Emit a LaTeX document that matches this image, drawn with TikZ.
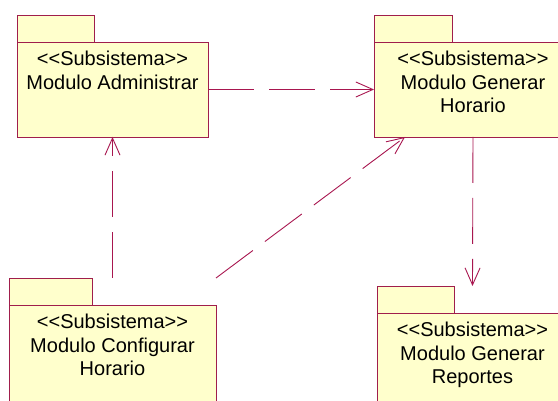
\documentclass[tikz,border=0pt]{standalone}
\usepackage{fontspec}
\setmainfont{Liberation Sans}[Ligatures=TeXOff]
\usetikzlibrary{arrows.meta, positioning, fit}
\definecolor{roseLine}{HTML}{A8164F}
\definecolor{roseEdge}{HTML}{A01E4C}
\definecolor{roseFill}{HTML}{FFFFCC}
\begin{document}
\begin{tikzpicture}[x=1pt, y=-1pt,
    pkgbody/.style={draw=roseEdge, fill=roseFill, line width=0.9pt, anchor=north west, inner sep=0pt, outer sep=0pt, minimum height=95pt},
    pkgtab/.style={draw=roseEdge, fill=roseFill, line width=0.9pt, inner sep=0pt, outer sep=0pt, minimum width=77pt, minimum height=27pt},
    pkgtext/.style={anchor=north, align=center, inner sep=0pt, font=\fontsize{20}{23.5}\selectfont, text=black},
    pkgall/.style={inner sep=0pt, outer sep=0pt},
    dep/.style={draw=roseLine, line width=0.9pt, dash pattern=on 46pt off 15pt, -{Straight Barb[length=17pt, width=15pt]}}
]
    \useasboundingbox (0,0) rectangle (558,401);
    \clip (0,0) rectangle (558,401);

    % Modulo Administrar
    \node[pkgbody, minimum width=191pt] (admBody) at (17,42) {};
    \node[pkgtab, above right=0pt and 0pt of admBody.north west] (admTab) {};
    \node[pkgtext] (admText) at ([yshift=-9pt]admBody.north) {<<Subsistema>>\\Modulo Administrar};
    \node[pkgall, fit=(admTab)(admBody)] (admPkg) {};

    % Modulo Generar Horario
    \node[pkgbody, minimum width=198pt] (horBody) at (374,42) {};
    \node[pkgtab, minimum width=78pt, above right=0pt and 0pt of horBody.north west] (horTab) {};
    \node[pkgtext] (horText) at ([yshift=-9pt]horBody.north) {<<Subsistema>>\\Modulo Generar\\Horario};
    \node[pkgall, fit=(horTab)(horBody)] (horPkg) {};

    % Modulo Configurar Horario
    \node[pkgbody, minimum width=207pt, minimum height=120pt] (cfgBody) at (9,305) {};
    \node[pkgtab, minimum width=83pt, above right=0pt and 0pt of cfgBody.north west] (cfgTab) {};
    \node[pkgtext] (cfgText) at ([yshift=-9pt]cfgBody.north) {<<Subsistema>>\\Modulo Configurar\\Horario};
    \node[pkgall, fit=(cfgTab)(cfgBody)] (cfgPkg) {};

    % Modulo Generar Reportes
    \node[pkgbody, minimum width=191pt, minimum height=120pt] (repBody) at (377,313) {};
    \node[pkgtab, above right=0pt and 0pt of repBody.north west] (repTab) {};
    \node[pkgtext] (repText) at ([yshift=-9pt]repBody.north) {<<Subsistema>>\\Modulo Generar\\Reportes};
    \node[pkgall, fit=(repTab)(repBody)] (repPkg) {};

    \coordinate (horIn) at ([xshift=31pt]horBody.south west);

    % dependencias
    \draw[dep] (admBody.east) -- (horBody.west);
    \draw[dep] (cfgPkg.north) -- (admBody.south);
    \draw[dep] (cfgPkg.north east) -- (horIn);
    \draw[dep] (horBody.south) -- (repPkg.north);
\end{tikzpicture}
\end{document}
